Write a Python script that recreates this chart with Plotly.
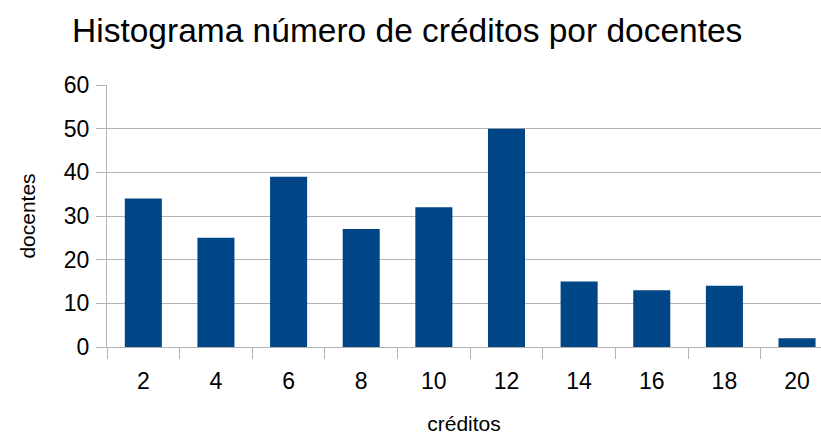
import plotly.graph_objects as go

categories = ["2", "4", "6", "8", "10", "12", "14", "16", "18", "20"]
docentes = [34, 25, 39, 27, 32, 50, 15, 13, 14, 2]
y_ticks = [0, 10, 20, 30, 40, 50, 60]

FONT = "Liberation Sans, Arial, sans-serif"
GRID = "#b3b3b3"

fig = go.Figure(go.Bar(x=categories, y=docentes, marker=dict(color="#004586", line=dict(width=0))))

fig.update_layout(
    width=821, height=435,
    paper_bgcolor="white", plot_bgcolor="white",
    margin=dict(l=107, r=0, t=85, b=88, autoexpand=False),
    bargap=0.49,
    showlegend=False,
    title=dict(text="Histograma número de créditos por docentes", x=0.496, xanchor="center",
               y=0.93, yanchor="middle", font=dict(family=FONT, size=33.5, color="black")),
    font=dict(family=FONT, color="black"),
)
fig.update_xaxes(
    type="category", range=[-0.5, 9.33], automargin=False,
    tickson="boundaries", ticks="outside", ticklen=11, tickcolor=GRID, tickwidth=1,
    showline=True, linecolor=GRID, linewidth=1,
    showgrid=False, tickfont=dict(size=23), ticklabelstandoff=13,
    title=dict(text="créditos", font=dict(size=21), standoff=32),
)
fig.update_yaxes(
    range=[0, 60], tickvals=y_ticks, ticks="outside", ticklen=10, tickcolor=GRID,
    showline=True, linecolor=GRID, linewidth=1, automargin=False,
    showgrid=True, gridcolor=GRID, gridwidth=1, zeroline=False,
    tickfont=dict(size=23), ticklabelstandoff=2,
    title=dict(text="docentes", font=dict(size=21), standoff=22),
)

fig.write_html("out.html", config={"displayModeBar": False},
               post_script="document.body.style.margin='0';")
